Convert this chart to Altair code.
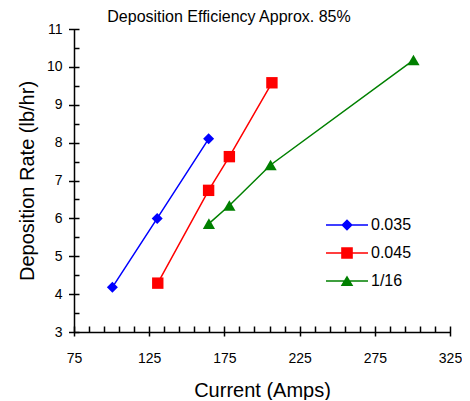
import altair as alt
import pandas as pd

# ---------------- data ----------------
series_names = ["0.035", "0.045", "1/16"]
series_colors = ["#0000FF", "#FF0000", "#008000"]
series_shapes = ["diamond", "square", "triangle-up"]
series_sizes = [121, 130, 150]

amps_035 = [100.5, 130.3, 164.5]
rate_035 = [4.18, 6.0, 8.1]
amps_045 = [130.7, 164.5, 178.3, 206.6]
rate_045 = [4.29, 6.74, 7.63, 9.58]
amps_116 = [164.7, 178.3, 205.7, 300.7]
rate_116 = [5.86, 6.34, 7.41, 10.18]

x_major_ticks = [75, 125, 175, 225, 275, 325]
x_minor_ticks = [85, 95, 105, 115, 135, 145, 155, 165, 185, 195, 205, 215,
                 235, 245, 255, 265, 285, 295, 305, 315]
y_major_ticks = [3, 4, 5, 6, 7, 8, 9, 10, 11]
y_minor_ticks = [3.5, 4.5, 5.5, 6.5, 7.5, 8.5, 9.5, 10.5]

title_text = "Deposition Efficiency Approx. 85%"
x_title = "Current (Amps)"
y_title = "Deposition Rate (lb/hr)"

rows = []
for name, xs, ys in [(series_names[0], amps_035, rate_035),
                     (series_names[1], amps_045, rate_045),
                     (series_names[2], amps_116, rate_116)]:
    for a, r in zip(xs, ys):
        rows.append({"series": name, "amps": a, "rate": r})
df = pd.DataFrame(rows)

# legend symbols: a short line with the marker on it (unit = sqrt(size)/2 px)
_line = "M-3,-0.12L3,-0.12L3,0.12L-3,0.12Z"
legend_paths = [
    _line + "M0,-0.82L0.82,0L0,0.82L-0.82,0Z",
    _line + "M-0.83,-0.83L0.83,-0.83L0.83,0.83L-0.83,0.83Z",
    _line + "M0,-0.78L0.9,0.72L-0.9,0.72Z",
]

FONT = "Liberation Sans"
x_scale = alt.Scale(domain=[75, 325], nice=False, zero=False)
y_scale = alt.Scale(domain=[3, 11], nice=False, zero=False)

common = dict(grid=False, domainColor="black", tickColor="black",
              labelColor="black", titleColor="black", labelFont=FONT,
              titleFont=FONT, labelFontSize=14, titleFontSize=20,
              titleFontWeight="normal", tickWidth=1.5, domainWidth=1.5,
              labelFlush=False, labelOverlap=False)

x_major_axis = alt.Axis(orient="bottom", values=x_major_ticks, offset=-6,
                        tickSize=10, domain=False, labelPadding=15,
                        title=x_title, titlePadding=15, format="d", **common)
y_major_axis = alt.Axis(orient="left", values=y_major_ticks, offset=-5,
                        tickSize=10.5, domain=False, labelPadding=6.5,
                        title=y_title, titlePadding=9, format="d", **common)
x_minor_axis = alt.Axis(orient="bottom", values=x_minor_ticks, offset=-6,
                        tickSize=6, domain=False, labels=False, title=None,
                        **common)
y_minor_axis = alt.Axis(orient="left", values=y_minor_ticks, offset=-5,
                        tickSize=5, domain=False, labels=False, title=None,
                        **common)
x_dom_axis = alt.Axis(orient="bottom", ticks=False, labels=False,
                      domain=True, title=None, offset=0, **common)
y_dom_axis = alt.Axis(orient="left", ticks=False, labels=False,
                      domain=True, title=None, offset=0, **common)

x_axes = [x_major_axis, x_minor_axis, x_dom_axis]
y_axes = [y_major_axis, y_minor_axis, y_dom_axis]

layers = []
for i, name in enumerate(series_names):
    base = alt.Chart(df).transform_filter(alt.datum.series == name)
    line = base.mark_line(color=series_colors[i], strokeWidth=1.5).encode(
        x=alt.X("amps:Q", scale=x_scale, axis=x_axes[i]),
        y=alt.Y("rate:Q", scale=y_scale, axis=y_axes[i]),
    )
    pts = base.mark_point(shape=series_shapes[i], filled=True,
                          size=series_sizes[i], color=series_colors[i],
                          opacity=1).encode(
        x=alt.X("amps:Q", scale=x_scale, axis=None),
        y=alt.Y("rate:Q", scale=y_scale, axis=None),
    )
    layers += [line, pts]

leg = alt.Legend(orient="none", legendX=265, legendY=188, title=None,
                 symbolSize=196, symbolStrokeWidth=0, labelFont=FONT,
                 labelFontSize=16, labelColor="black", labelOffset=16,
                 rowPadding=12, padding=0)

legend_layer = alt.Chart(df).transform_filter("datum.amps < 0").mark_point(
    filled=True, opacity=1).encode(
    x=alt.X("amps:Q", scale=x_scale, axis=None),
    y=alt.Y("rate:Q", scale=y_scale, axis=None),
    color=alt.Color("series:N", scale=alt.Scale(domain=series_names,
                                                range=series_colors),
                    legend=leg),
    shape=alt.Shape("series:N", scale=alt.Scale(domain=series_names,
                                                range=legend_paths),
                    legend=leg),
)
layers.append(legend_layer)

chart = alt.layer(*layers).resolve_axis(
    x="independent", y="independent"
).properties(
    width=376, height=303,
    autosize=alt.AutoSizeParams(type="none"),
    padding={"left": 66, "top": 21, "right": 12, "bottom": 68},
    title=alt.TitleParams(text=title_text, font=FONT, fontSize=16,
                          fontWeight="normal", color="black",
                          anchor="middle", dx=-33, dy=16, offset=0,
                          baseline="alphabetic"),
).configure_view(stroke=None)

chart.save("out.html", embed_options={"renderer": "svg", "actions": False})
